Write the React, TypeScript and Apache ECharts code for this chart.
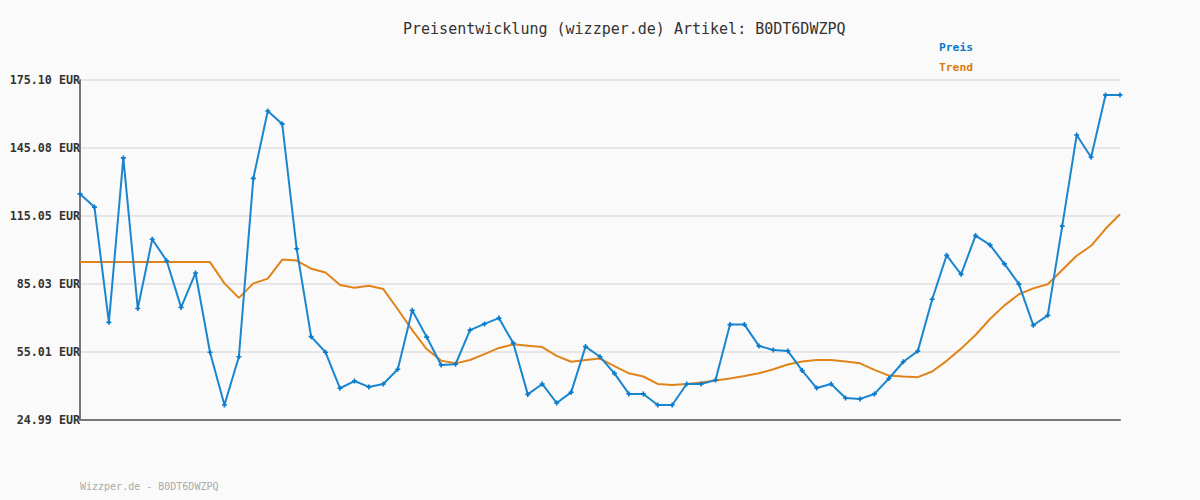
import React, { useEffect, useRef } from "react";
import * as echarts from "echarts";

const TITLE = "Preisentwicklung (wizzper.de) Artikel: B0DT6DWZPQ";
const FOOTER = "Wizzper.de - B0DT6DWZPQ";
const Y_TICKS = [24.99, 55.01, 85.03, 115.05, 145.08, 175.1];
const Y_TICK_LABELS = ["24.99 EUR", "55.01 EUR", "85.03 EUR", "115.05 EUR", "145.08 EUR", "175.10 EUR"];

const preis = [
  124.8, 119.0, 68.1, 140.7, 74.2, 104.8, 95.3, 74.7, 89.9, 54.9,
  31.6, 52.9, 131.7, 161.4, 155.7, 100.6, 61.8, 54.9, 39.0, 42.2,
  39.6, 40.9, 47.4, 73.4, 61.6, 49.3, 49.6, 64.7, 67.4, 70.0,
  58.9, 36.3, 40.9, 32.5, 37.2, 57.4, 52.9, 45.6, 36.5, 36.5,
  31.6, 31.6, 40.9, 40.9, 42.6, 67.1, 67.1, 57.7, 55.9, 55.5,
  46.8, 39.1, 40.9, 34.7, 34.3, 36.5, 43.3, 50.7, 55.4, 78.3,
  97.7, 89.3, 106.4, 102.3, 93.9, 85.0, 66.8, 71.2, 110.6, 150.8,
  141.0, 168.5, 168.5,
];

const trend = [
  94.7, 94.7, 94.7, 94.7, 94.7, 94.7, 94.7, 94.7, 94.7, 94.7,
  85.3, 78.9, 85.3, 87.4, 95.8, 95.4, 91.8, 90.1, 84.6, 83.4,
  84.3, 82.8, 73.9, 64.7, 56.3, 51.2, 50.0, 51.5, 54.1, 56.8,
  58.4, 57.8, 57.2, 53.3, 50.7, 51.5, 52.1, 48.8, 45.6, 44.2,
  40.9, 40.4, 40.9, 41.6, 42.4, 43.3, 44.4, 45.6, 47.4, 49.5,
  50.8, 51.5, 51.5, 50.8, 50.0, 47.1, 44.6, 44.2, 43.9, 46.4,
  51.1, 56.5, 62.5, 69.6, 75.6, 80.5, 83.1, 84.9, 91.2, 97.5,
  101.9, 109.4, 115.8,
];

const categories = preis.map((_, i) => String(i + 1));

const MONO = "'DejaVu Sans Mono', 'Liberation Mono', monospace";

export default function App() {
  const ref = useRef<HTMLDivElement>(null);
  useEffect(() => {
    document.body.style.margin = "0";
    const chart = echarts.init(ref.current!, null, { renderer: "svg" });
    chart.setOption({
      animation: false,
      backgroundColor: "#fafafa",
      title: {
        text: TITLE,
        left: 398,
        top: 16,
        textStyle: { fontFamily: MONO, fontSize: 15, fontWeight: "normal", color: "#333" },
      },
      graphic: [
        { type: "text", left: 939, top: 42, style: { text: "Preis", fill: "#0a78c8", font: `bold 11.3px ${MONO}` } },
        { type: "text", left: 939, top: 62, style: { text: "Trend", fill: "#dd7a0a", font: `bold 11.3px ${MONO}` } },
        { type: "text", left: 80, top: 481, style: { text: FOOTER, fill: "#aaaaaa", font: `10px ${MONO}` } },
      ],
      grid: { left: 80, right: 80, top: 80, bottom: 80 },
      xAxis: {
        type: "category",
        data: categories,
        boundaryGap: false,
        axisLine: { show: true, lineStyle: { color: "#777", width: 2 } },
        axisTick: { show: false },
        axisLabel: { show: false },
        splitLine: { show: false },
      },
      yAxis: {
        type: "value",
        min: Y_TICKS[0],
        max: Y_TICKS[Y_TICKS.length - 1],
        axisLine: { show: true, lineStyle: { color: "#777", width: 2 } },
        axisTick: { show: false, customValues: Y_TICKS },
        axisLabel: {
          customValues: Y_TICKS,
          margin: 0,
          fontFamily: MONO,
          fontSize: 11.7,
          fontWeight: "bold",
          color: "#333",
          formatter: (v: number) => {
            const idx = Y_TICKS.findIndex((t) => Math.abs(t - v) < 0.01);
            return idx >= 0 ? Y_TICK_LABELS[idx] : "";
          },
        },
        splitLine: { show: true, lineStyle: { color: "#e6e6e6", width: 2 } },
      },
      series: [
        {
          name: "Trend",
          type: "line",
          data: trend,
          symbol: "none",
          lineStyle: { color: "#e0841a", width: 2 },
          z: 2,
        },
        {
          name: "Preis",
          type: "line",
          data: preis,
          symbol: "path://M2,0H4V2H6V4H4V6H2V4H0V2H2Z",
          symbolSize: 5,
          itemStyle: { color: "#0a7bcc" },
          lineStyle: { color: "#1a86cf", width: 2 },
          z: 3,
        },
      ],
    });
    return () => chart.dispose();
  }, []);
  return <div ref={ref} style={{ width: 1200, height: 500 }} />;
}
